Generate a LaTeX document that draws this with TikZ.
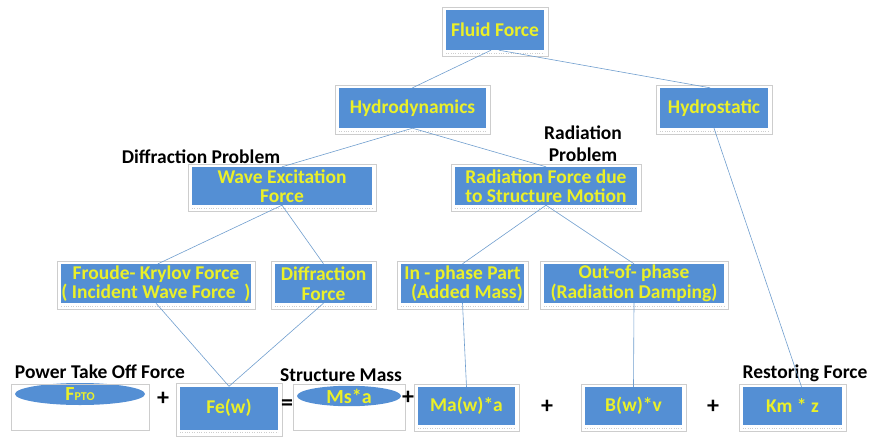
\documentclass[tikz,border=0pt]{standalone}
\usepackage{fontspec}
\setmainfont{Carlito}
\usetikzlibrary{shapes.geometric,positioning}
\definecolor{boxblue}{RGB}{84,143,212}
\definecolor{boxtext}{RGB}{235,240,40}
\definecolor{linkblue}{RGB}{112,158,206}
\definecolor{framegray}{RGB}{205,205,205}

\begin{document}
\begin{tikzpicture}[x=1pt, y=-1pt,
    box/.style={rectangle, fill=boxblue, text=boxtext, align=center, inner sep=0pt,
      font=\bfseries\fontsize{19.5}{19.5}\selectfont},
    oval/.style={ellipse, fill=boxblue, text=boxtext, inner sep=0pt,
      font=\bfseries\fontsize{20}{20}\selectfont},
    lbl/.style={font=\bfseries\fontsize{19.5}{22}\selectfont, align=center, inner sep=0pt},
    op/.style={font=\bfseries\fontsize{24}{24}\selectfont, inner sep=0pt},
    link/.style={linkblue, line width=0.6pt},
    frame/.style={framegray, line width=0.4pt}]
  \useasboundingbox (0,0) rectangle (871,437);
  % Tree boxes
  \node[box, minimum width=98, minimum height=40] (fluid) at (495,30) {Fluid Force};
  \node[box, minimum width=147, minimum height=40] (hydrodyn) at (412.5,108) {Hydrodynamics};
  \node[box, minimum width=108, minimum height=40] (hydrostat) at (714,108) {Hydrostatic};
  \node[box, minimum width=180, minimum height=38] (waveexc) at (282,186) {Wave Excitation\\Force};
  \node[box, minimum width=182, minimum height=38] (radforce) at (546,186) {Radiation Force due\\to Structure Motion};
  \node[box, minimum width=188, minimum height=39] (froude) at (156,283.5) {Froude- Krylov Force\\( Incident Wave Force~ )};
  \node[box, minimum width=97, minimum height=39] (diffr) at (323.5,283.5) {Diffraction\\Force};
  \node[box, minimum width=123, minimum height=39] (inphase) at (462.5,283.5) {In - phase Part\\\ \ (Added Mass)};
  \node[box, minimum width=180, minimum height=39] (outphase) at (634,283.5) {Out-of- phase\\(Radiation Damping)};
  % Equation row
  \node[oval, minimum width=130, minimum height=22] (fpto) at (80,394) {F{\fontsize{12}{12}\selectfont PTO}};
  \node[box, minimum width=98, minimum height=43] (fe) at (229,408) {Fe(w)};
  \node[oval, minimum width=104, minimum height=20] (msa) at (349,396) {Ms*a};
  \node[box, minimum width=97, minimum height=38] (maw) at (466.5,406) {Ma(w)*a};
  \node[box, minimum width=97, minimum height=38] (bwv) at (633.5,406) {B(w)*v};
  \node[box, minimum width=99, minimum height=38] (kmz) at (792.5,406) {Km * z};
  % Frames round the boxes
  \foreach \n in {fluid,hydrodyn,hydrostat,waveexc,radforce,froude,diffr,inphase,outphase,fe,maw,bwv,kmz} {
    \draw[frame] ([shift={(-4pt,-6pt)}]\n.south west) rectangle ([shift={(4pt,3pt)}]\n.north east);
    \draw[frame, dotted] ([yshift=-2.5pt]\n.south west) -- ([yshift=-2.5pt]\n.south east);
  }
  \draw[frame] ([xshift=-4pt]fpto.west |- 0,384) rectangle ([xshift=4pt]fpto.east |- 0,430);
  \draw[frame] ([xshift=-4pt]msa.west |- 0,384) rectangle ([xshift=4pt]msa.east |- 0,430);
  % Labels
  \node[lbl] (difflbl) at (201,157) {Diffraction Problem};
  \node[lbl] (radlbl) at (583,144) {Radiation\\Problem};
  \node[lbl] (ptolbl) at (100,372) {Power Take Off Force};
  \node[lbl] (masslbl) at (341,375) {Structure Mass};
  \node[lbl] (restlbl) at (805,373) {Restoring Force};
  \node[op] (op1) at (163,399) {+};
  \node[op] (op2) at (287,405) {=};
  \node[op] (op3) at (408,398) {+};
  \node[op] (op4) at (547,407) {+};
  \node[op] (op5) at (713,407) {+};
  % Connectors
  \draw[link] ([xshift=-4]fluid.south) -- (hydrodyn.north);
  \draw[link] ([xshift=4]fluid.south) -- ([xshift=-4]hydrostat.north);
  \draw[link] (hydrodyn.south) -- (waveexc.north);
  \draw[link] (hydrodyn.south) -- (radforce.north);
  \draw[link] (waveexc.south) -- ([xshift=2]froude.north);
  \draw[link] (waveexc.south) -- (diffr.north);
  \draw[link] (radforce.south) -- (inphase.north);
  \draw[link] (radforce.south) -- (outphase.north);
  \draw[link] (froude.south) -- (fe.north);
  \draw[link] (diffr.south) -- (fe.north);
  \draw[link] (inphase.south) -- (maw.north);
  \draw[link] (outphase.south) -- (bwv.north);
  \draw[link] (hydrostat.south) -- ([xshift=9]kmz.north);
\end{tikzpicture}
\end{document}
